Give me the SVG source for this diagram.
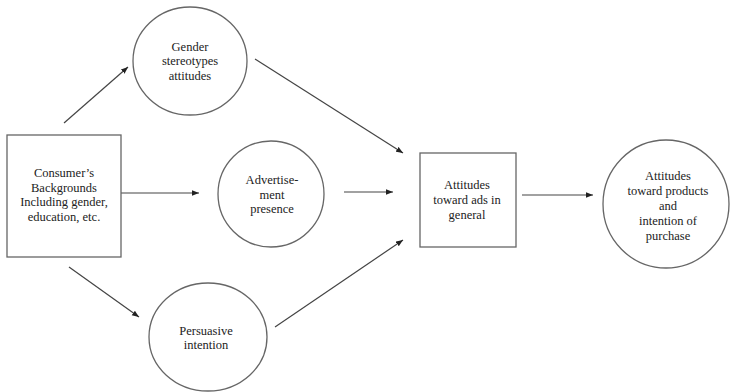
<svg xmlns="http://www.w3.org/2000/svg" width="730" height="392" viewBox="0 0 730 392">
<defs>
<marker id="arr" viewBox="0 0 10 10" refX="10" refY="5" markerWidth="7" markerHeight="7" markerUnits="userSpaceOnUse" orient="auto">
<path d="M0,1 L10,5 L0,9 z" fill="#222"/>
</marker>
</defs>
<style>
.shape{fill:#fff;stroke:#666;stroke-width:1.3}
.lbl{font-family:"Liberation Serif","DejaVu Serif",serif;font-size:12.5px;fill:#222;text-anchor:middle}
.edge{stroke:#444;stroke-width:1.2;fill:none;marker-end:url(#arr)}
</style>
<rect width="730" height="392" fill="#fff"/>
<g id="connectors">
<line class="edge" x1="64" y1="123" x2="128" y2="67"/>
<line class="edge" x1="121" y1="193" x2="199" y2="193"/>
<line class="edge" x1="69" y1="267" x2="139" y2="317"/>
<line class="edge" x1="255" y1="59" x2="403" y2="153"/>
<line class="edge" x1="344" y1="192" x2="393" y2="192"/>
<line class="edge" x1="275" y1="327" x2="403" y2="240"/>
<line class="edge" x1="522" y1="195" x2="593" y2="195"/>
</g>
<g id="consumer" font-family="Liberation Serif, serif">
<rect class="shape" x="7" y="135" width="114" height="122"/>
<text class="lbl" x="64" y="177">Consumer’s</text>
<text class="lbl" x="64" y="192">Backgrounds</text>
<text class="lbl" x="64" y="206">Including gender,</text>
<text class="lbl" x="64" y="221">education, etc.</text>
</g>
<g id="gender" font-family="Liberation Serif, serif">
<ellipse class="shape" cx="190" cy="61" rx="57" ry="54"/>
<text class="lbl" x="190" y="51">Gender</text>
<text class="lbl" x="190" y="65">stereotypes</text>
<text class="lbl" x="190" y="80">attitudes</text>
</g>
<g id="advertisement" font-family="Liberation Serif, serif">
<ellipse class="shape" cx="271" cy="194" rx="53" ry="53"/>
<text class="lbl" x="272" y="184">Advertise-</text>
<text class="lbl" x="272" y="199">ment</text>
<text class="lbl" x="272" y="213">presence</text>
</g>
<g id="persuasive" font-family="Liberation Serif, serif">
<ellipse class="shape" cx="208" cy="337" rx="59" ry="54"/>
<text class="lbl" x="206" y="335">Persuasive</text>
<text class="lbl" x="206" y="349">intention</text>
</g>
<g id="attitudes-ads" font-family="Liberation Serif, serif">
<rect class="shape" x="420" y="153" width="96" height="94"/>
<text class="lbl" x="467" y="189">Attitudes</text>
<text class="lbl" x="467" y="204">toward ads in</text>
<text class="lbl" x="467" y="219">general</text>
</g>
<g id="attitudes-products" font-family="Liberation Serif, serif">
<ellipse class="shape" cx="666" cy="204" rx="63" ry="64"/>
<text class="lbl" x="668" y="180">Attitudes</text>
<text class="lbl" x="668" y="195">toward products</text>
<text class="lbl" x="668" y="210">and</text>
<text class="lbl" x="668" y="225">intention of</text>
<text class="lbl" x="668" y="240">purchase</text>
</g>
</svg>
